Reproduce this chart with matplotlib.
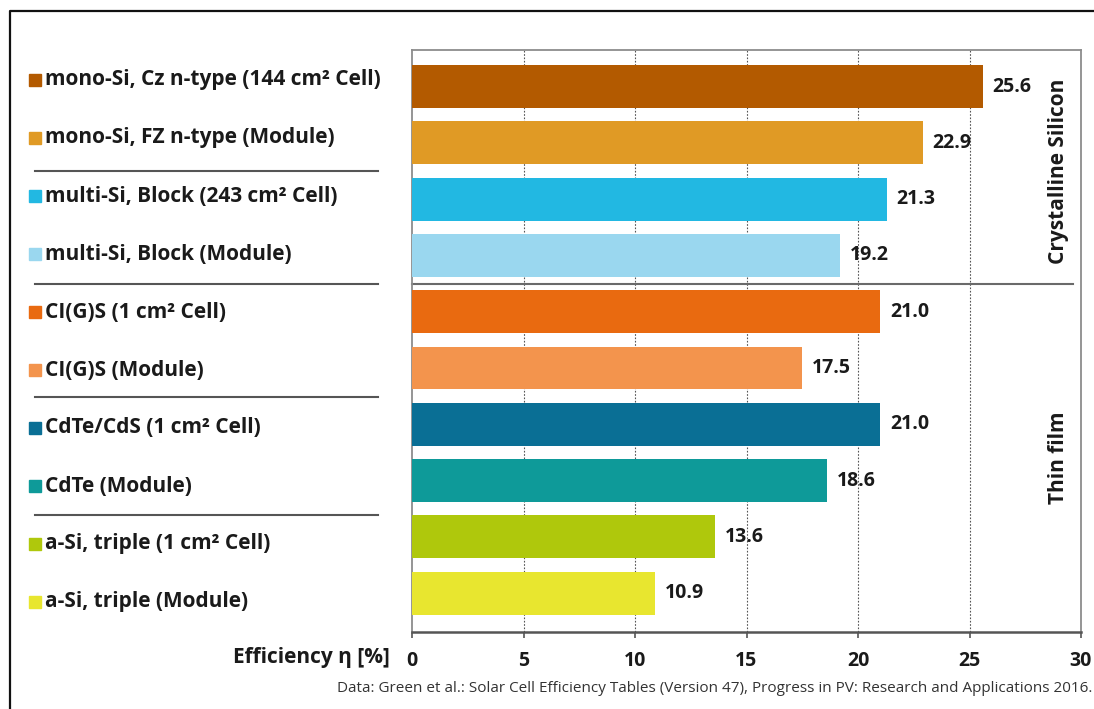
import matplotlib
matplotlib.use("Agg")
import matplotlib.pyplot as plt
from matplotlib.lines import Line2D
from matplotlib.patches import Rectangle

plt.rcParams['font.family'] = ['Open Sans', 'DejaVu Sans']

# Record efficiencies (%)
technologies = [
    "mono-Si, Cz n-type (144 cm² Cell)",
    "mono-Si, FZ n-type (Module)",
    "multi-Si, Block (243 cm² Cell)",
    "multi-Si, Block (Module)",
    "CI(G)S (1 cm² Cell)",
    "CI(G)S (Module)",
    "CdTe/CdS (1 cm² Cell)",
    "CdTe (Module)",
    "a-Si, triple (1 cm² Cell)",
    "a-Si, triple (Module)",
]
efficiency = [25.6, 22.9, 21.3, 19.2, 21.0, 17.5, 21.0, 18.6, 13.6, 10.9]
bar_colors = [
    "#B35A00", "#E09A25", "#22B8E2", "#9AD7EF", "#E96A10",
    "#F3944D", "#0A6F95", "#0E9A99", "#AFC80C", "#E8E62F",
]
x_ticks = [0, 5, 10, 15, 20, 25, 30]
x_label = "Efficiency η [%]"
groups = ["Crystalline Silicon", "Thin film"]
source = ("Data: Green et al.: Solar Cell Efficiency Tables (Version 47), "
          "Progress in PV: Research and Applications 2016.")

W, H = 1094, 709
fig = plt.figure(figsize=(W / 100, H / 100), dpi=100)


def fx(px):
    return px / W


def fy(py):
    return 1 - py / H


ax = fig.add_axes([fx(412), fy(632), (1081 - 412) / W, (632 - 50) / H])

ypos = list(range(len(efficiency)))
ax.barh(ypos, efficiency, height=0.76, color=bar_colors, zorder=3)
ax.set_ylim(9.69, -0.65)
ax.set_xlim(0, 30)

for y, v in zip(ypos, efficiency):
    ax.annotate(f"{v:.1f}", (v, y), xytext=(7, 0), textcoords="offset points",
                va="center", ha="left", fontsize=14, fontweight="bold",
                color="#1a1a1a", zorder=4)

# grid and spines
for t in x_ticks[1:-1]:
    ax.axvline(t, color="#555555", lw=0.8, ls=(0, (1.5, 1.5)), zorder=1)
ax.set_xticks(x_ticks)
ax.set_xticklabels([str(t) for t in x_ticks], fontsize=14, fontweight="bold",
                   color="#1a1a1a")
ax.tick_params(axis="x", direction="out", length=4, width=1.2,
               color="#555555", pad=10)
ax.set_yticks([])
for side in ["top", "right", "left"]:
    ax.spines[side].set_color("#8c8c8c")
    ax.spines[side].set_linewidth(1.3)
ax.spines["bottom"].set_color("#555555")
ax.spines["bottom"].set_linewidth(1.8)

# crystalline / thin film divider inside the plot
ax.plot([0, 29.65], [3.5, 3.5], color="#6a6a6a", lw=1.5, zorder=2,
        clip_on=False)

# group names on the right
ax.text(29.0, 1.5, groups[0], rotation=90, ha="center", va="center",
        fontsize=15, fontweight="bold", color="#1a1a1a")
ax.text(29.0, 6.6, groups[1], rotation=90, ha="center", va="center",
        fontsize=15, fontweight="bold", color="#1a1a1a")

# category labels with colour keys on the left
label_y = [80 + 58 * i for i in range(len(technologies))]
for name, col, py in zip(technologies, bar_colors, label_y):
    fig.patches.append(Rectangle((fx(29), fy(py + 6)), 12 / W, 12 / H,
                                 transform=fig.transFigure, color=col))
    fig.text(fx(45), fy(py), name, ha="left", va="center", fontsize=15,
             fontweight="bold", color="#1a1a1a")

for py in [171, 284, 397, 515]:
    fig.add_artist(Line2D([fx(35), fx(378)], [fy(py), fy(py)],
                          color="#555555", lw=1.5))

fig.text(fx(390), fy(658), x_label, ha="right", va="center", fontsize=15,
         fontweight="bold", color="#1a1a1a")
fig.text(fx(1092), fy(688), source, ha="right", va="center", fontsize=11,
         color="#333333")

# outer frame
fig.add_artist(Line2D([fx(9.5), fx(9.5), fx(1094)], [0, fy(11), fy(11)],
                      color="#111111", lw=1.6))

fig.savefig("out.png", dpi=100)
